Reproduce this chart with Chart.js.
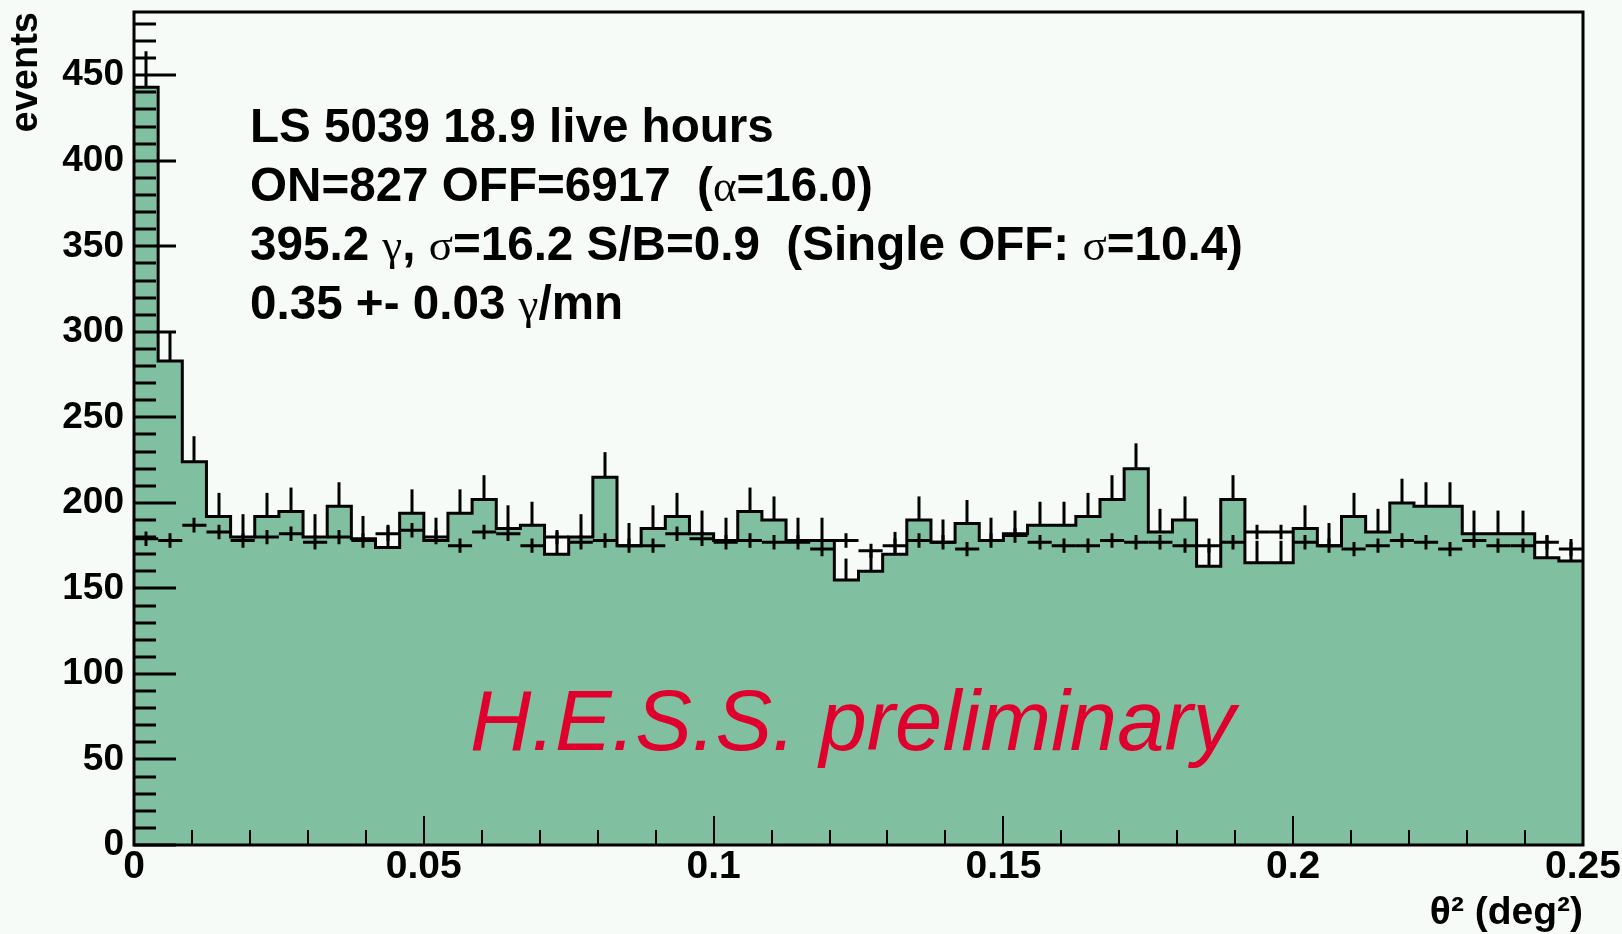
<!DOCTYPE html>
<html>
<head>
<meta charset="utf-8">
<title>LS 5039 theta2</title>
<script src="https://cdn.jsdelivr.net/npm/chart.js@4.4.1/dist/chart.umd.min.js"></script>
<style>
  html, body { margin: 0; padding: 0; background: #f6fbf8; }
  #wrap { width: 1622px; height: 934px; }
</style>
</head>
<body>
<div id="wrap"><canvas id="theta2" width="1622" height="934"></canvas></div>
<script>
// theta^2 histogram, 60 bins between 0 and 0.25 deg^2
const thetaMin = 0;
const thetaMax = 0.25;
const alpha = 16.0; // ON/OFF exposure ratio (from the legend)

// ON events per bin
const onCounts = [
    443, 283, 224, 192, 180, 192, 195, 180, 198, 179,
    174, 194, 178, 194, 202, 185, 187, 170, 180, 215,
    175, 185, 192, 182, 178, 195, 190, 178, 178, 155,
    160, 170, 190, 177, 188, 178, 182, 187, 187, 192,
    202, 220, 183, 190, 163, 202, 165, 165, 185, 175,
    192, 183, 200, 198, 198, 182, 182, 182, 168, 166
];

// OFF events per bin, already divided by alpha
const offScaled = [
    179, 178, 187, 183, 178, 180, 182, 177, 180, 178,
    182, 184, 180, 175, 183, 182, 175, 180, 177, 178,
    175, 175, 182, 179, 177, 178, 177, 177, 173, 178,
    172, 175, 178, 177, 173, 178, 181, 177, 175, 175,
    178, 177, 177, 175, 175, 177, 183, 183, 177, 175,
    173, 175, 178, 177, 173, 178, 175, 175, 177, 173
];

const xTicks = [0, 0.05, 0.1, 0.15, 0.2, 0.25];
const xTickLabels = ['0', '0.05', '0.1', '0.15', '0.2', '0.25'];
const yTicks = [0, 50, 100, 150, 200, 250, 300, 350, 400, 450];
const yMax = 487;

// legend text, 'b' = bold latin, 'g' = greek symbol
const infoLines = [
    [['LS 5039 18.9 live hours', 'b']],
    [['ON=827 OFF=6917  (', 'b'], ['\u03b1', 'g'], ['=16.0)', 'b']],
    [['395.2 ', 'b'], ['\u03b3', 'g'], [', ', 'b'], ['\u03c3', 'g'], ['=16.2 S/B=0.9  (Single OFF: ', 'b'], ['\u03c3', 'g'], ['=10.4)', 'b']],
    [['0.35 +- 0.03 ', 'b'], ['\u03b3', 'g'], ['/mn', 'b']]
];
const watermark = 'H.E.S.S. preliminary';

const binWidth = (thetaMax - thetaMin) / onCounts.length;

// step outline: one point at each bin's left edge, plus the closing edge
const onSteps = onCounts.map((v, i) => ({ x: thetaMin + i * binWidth, y: v }));
onSteps.push({ x: thetaMax, y: onCounts[onCounts.length - 1] });

const bgColor = '#f6fbf8';
const fillColor = '#80c0a0';

const rootStyle = {
    id: 'rootStyle',
    beforeDraw(chart) {
        const ctx = chart.ctx;
        ctx.save();
        ctx.fillStyle = bgColor;
        ctx.fillRect(0, 0, chart.width, chart.height);
        ctx.restore();
    },
    afterDatasetsDraw(chart) {
        const { ctx, chartArea: a, scales: { x, y } } = chart;
        ctx.save();
        ctx.strokeStyle = '#000';
        ctx.lineCap = 'butt';

        // ON error bars, upper half only (lower half hidden by the fill in the original)
        ctx.lineWidth = 3;
        onCounts.forEach((v, i) => {
            const cx = Math.round(x.getPixelForValue(thetaMin + (i + 0.5) * binWidth));
            ctx.beginPath();
            ctx.moveTo(cx, y.getPixelForValue(v));
            ctx.lineTo(cx, y.getPixelForValue(v + Math.sqrt(v)));
            ctx.stroke();
        });

        // OFF crosses
        ctx.lineWidth = 3;
        offScaled.forEach((v, i) => {
            const x0 = x.getPixelForValue(thetaMin + i * binWidth);
            const x1 = x.getPixelForValue(thetaMin + (i + 1) * binWidth);
            const cx = Math.round((x0 + x1) / 2);
            const err = Math.sqrt(v / alpha);
            const py = y.getPixelForValue(v);
            ctx.beginPath();
            ctx.moveTo(x0, py);
            ctx.lineTo(x1, py);
            ctx.moveTo(cx, y.getPixelForValue(v - err) + 1.5);
            ctx.lineTo(cx, y.getPixelForValue(v + err) - 1.5);
            ctx.stroke();
        });

        // inward tick marks
        ctx.lineWidth = 3;
        for (let v = 0; v <= yMax; v += 10) {
            const py = Math.round(y.getPixelForValue(v));
            const len = v % 50 === 0 ? 42 : 22;
            ctx.beginPath();
            ctx.moveTo(a.left, py);
            ctx.lineTo(a.left + len, py);
            ctx.stroke();
        }
        ctx.lineWidth = 2;
        for (let k = 0; k <= 25; k++) {
            const px = Math.round(x.getPixelForValue(k * 0.01));
            const len = k % 5 === 0 ? 29 : 15;
            ctx.beginPath();
            ctx.moveTo(px, a.bottom);
            ctx.lineTo(px, a.bottom - len);
            ctx.stroke();
        }

        // frame
        ctx.lineWidth = 3;
        ctx.strokeRect(a.left, a.top, a.right - a.left, a.bottom - a.top);

        // legend text
        ctx.fillStyle = '#000';
        ctx.textBaseline = 'alphabetic';
        infoLines.forEach((segs, row) => {
            let tx = 250;
            const ty = 142 + row * 59;
            segs.forEach(([txt, kind]) => {
                ctx.font = kind === 'g' ? '45px "Liberation Serif"' : 'bold 47.6px "Liberation Sans"';
                ctx.fillText(txt, tx, ty);
                tx += ctx.measureText(txt).width;
            });
        });

        ctx.fillStyle = '#e0002d';
        ctx.font = 'italic 85px "Liberation Sans"';
        ctx.fillText(watermark, 470, 750);
        ctx.restore();
    }
};

const ctx = document.getElementById('theta2').getContext('2d');
const chart = new Chart(ctx, {
    type: 'line',
    data: {
        datasets: [{
            label: 'ON',
            data: onSteps,
            stepped: 'before',
            fill: 'origin',
            backgroundColor: fillColor,
            borderColor: '#000',
            borderWidth: 3,
            pointRadius: 0
        }]
    },
    options: {
        responsive: false,
        animation: false,
        devicePixelRatio: 1,
        layout: { padding: { top: 12, right: 39, left: 0, bottom: 0 } },
        plugins: { legend: { display: false }, tooltip: { enabled: false } },
        scales: {
            x: {
                type: 'linear',
                min: thetaMin,
                max: thetaMax,
                afterBuildTicks: (scale) => { scale.ticks = xTicks.map(v => ({ value: v })); },
                afterFit: (scale) => {
                    scale.height = 89;
                    scale.paddingLeft = 0;
                    scale.paddingRight = 0;
                },
                grid: { display: false, drawTicks: false },
                border: { display: false },
                ticks: {
                    autoSkip: false,
                    maxRotation: 0,
                    padding: -1,
                    color: '#000',
                    font: { family: 'Liberation Sans', weight: 'bold', size: 39 },
                    callback: (v) => xTickLabels[xTicks.indexOf(v)]
                },
                title: {
                    display: true,
                    text: '\u03b8\u00b2 (deg\u00b2)',
                    align: 'end',
                    color: '#000',
                    padding: { top: 0, bottom: -3 },
                    font: { family: 'Liberation Sans', weight: 'bold', size: 39 }
                }
            },
            y: {
                min: 0,
                max: yMax,
                afterBuildTicks: (scale) => { scale.ticks = yTicks.map(v => ({ value: v })); },
                afterFit: (scale) => {
                    scale.width = 134;
                    scale.paddingTop = 0;
                    scale.paddingBottom = 0;
                },
                grid: { display: false, drawTicks: false },
                border: { display: false },
                ticks: {
                    padding: 10,
                    color: '#000',
                    font: { family: 'Liberation Sans', weight: 'bold', size: 37 }
                },
                title: {
                    display: true,
                    text: 'events',
                    align: 'end',
                    color: '#000',
                    padding: { top: 4, bottom: 0 },
                    font: { family: 'Liberation Sans', weight: 'bold', size: 38 }
                }
            }
        }
    },
    plugins: [rootStyle]
});
</script>
</body>
</html>
